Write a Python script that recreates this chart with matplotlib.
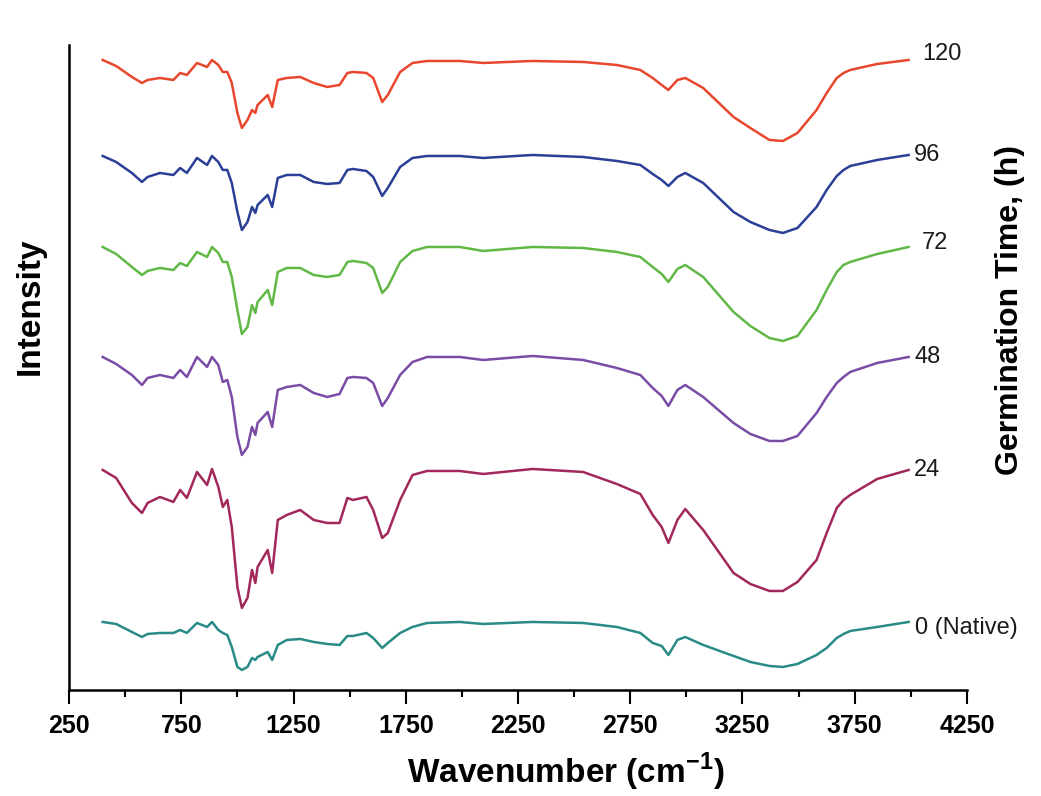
import matplotlib.pyplot as plt

plt.rcParams["mathtext.fontset"] = "custom"
plt.rcParams["mathtext.rm"] = "Liberation Sans"
plt.rcParams["mathtext.bf"] = "Liberation Sans:bold"

# wavenumber grid (cm-1)
wavenumber = [400, 460, 530, 575, 600, 655, 715, 745, 775, 820, 865, 887, 915, 935, 955, 975,
              1000, 1020, 1045, 1065, 1080, 1090, 1135, 1155, 1180, 1220, 1280, 1340, 1400,
              1455, 1490, 1515, 1575, 1605, 1645, 1670, 1725, 1780, 1845,
              1990, 2095, 2315, 2540, 2690, 2795, 2850, 2890, 2920, 2960, 2995, 3075, 3210,
              3285, 3370, 3430, 3495, 3580, 3625, 3670, 3700, 3730, 3850, 3990]

# intensity (a.u., stacked) for each germination time
h120 = [640, 634, 623, 617, 620, 622, 620, 627, 625, 637, 633, 640, 635, 628, 628, 617,
        587, 572, 580, 590, 587, 595, 605, 593, 620, 622, 623, 617, 613,
        615, 627, 628, 627, 622, 598, 605, 628, 637, 639,
        639, 637, 639, 638, 635, 630, 622, 615, 610, 620, 622, 612, 583,
        572, 560, 559, 567, 590, 607, 622, 627, 630, 636, 640]
h96 = [544, 538, 527, 518, 523, 527, 525, 532, 527, 542, 535, 544, 538, 530, 530, 517,
       488, 470, 478, 493, 487, 495, 505, 493, 522, 525, 525, 518, 516,
       517, 530, 531, 529, 523, 504, 512, 533, 542, 544,
       544, 542, 545, 543, 539, 535, 526, 520, 514, 523, 527, 517, 488,
       478, 470, 467, 472, 493, 510, 524, 530, 534, 540, 545]
h72 = [453, 446, 433, 425, 429, 432, 430, 437, 434, 448, 443, 453, 447, 438, 438, 423,
       390, 366, 373, 395, 387, 398, 410, 395, 428, 432, 432, 425, 423,
       425, 438, 439, 437, 432, 407, 413, 438, 449, 453,
       453, 449, 453, 452, 448, 443, 433, 426, 418, 431, 435, 423, 388,
       374, 362, 359, 364, 390, 410, 428, 435, 438, 446, 453]
h48 = [343, 336, 325, 315, 322, 325, 322, 330, 323, 343, 333, 343, 335, 318, 320, 303,
       263, 245, 253, 273, 265, 277, 288, 273, 310, 313, 315, 307, 303,
       306, 322, 323, 322, 317, 294, 302, 325, 338, 343,
       343, 340, 344, 340, 332, 325, 312, 304, 294, 310, 315, 303, 277,
       266, 259, 259, 264, 287, 303, 317, 323, 328, 337, 343]
h24 = [230, 222, 197, 187, 197, 203, 198, 210, 202, 228, 215, 231, 213, 193, 200, 173,
       113, 92, 102, 130, 117, 133, 150, 127, 180, 185, 190, 180, 177,
       177, 202, 200, 203, 190, 162, 167, 200, 225, 229,
       229, 226, 231, 228, 216, 206, 185, 173, 157, 180, 191, 170, 127,
       116, 109, 109, 118, 140, 167, 192, 200, 205, 221, 230]
h0 = [78, 76, 68, 63, 66, 67, 67, 70, 67, 77, 73, 78, 70, 67, 65, 53,
      33, 30, 33, 42, 40, 43, 48, 40, 55, 60, 61, 58, 56,
      55, 64, 64, 67, 62, 52, 57, 67, 73, 77,
      78, 76, 78, 77, 73, 67, 57, 54, 45, 60, 63, 55, 44,
      38, 34, 33, 36, 45, 52, 62, 66, 69, 73, 78]

series = [h120, h96, h72, h48, h24, h0]
labels = ["120", "96", "72", "48", "24", "0 (Native)"]
colors = ["#E8472E", "#2B3F96", "#62B847", "#7A4CA6", "#A2285C", "#2A8B86"]
label_pos = [(4050, 646), (4015, 545), (4050, 457), (4015, 343), (4015, 230), (4020, 72)]

xticks = [250, 750, 1250, 1750, 2250, 2750, 3250, 3750, 4250]
xminor = [500, 1000, 1500, 2000, 2500, 3000, 3500, 4000]

fig = plt.figure(figsize=(10.41, 7.96), dpi=100)
ax = fig.add_axes([0.0663, 0.1332, 0.8626, 0.8103])

for y, lab, c, (lx, ly) in zip(series, labels, colors, label_pos):
    ax.plot(wavenumber, y, color=c, lw=1.8)
    ax.text(lx, ly, lab, color="#1a1a1a", fontsize=17, family="Liberation Sans",
            ha="left", va="center", clip_on=False)

ax.set_xlim(250, 4250)
ax.set_ylim(10, 655)
ax.set_xticks(xticks)
ax.set_xticks(xminor, minor=True)
ax.set_xticklabels([str(v) for v in xticks], fontsize=18, fontweight="bold",
                   family="Liberation Sans")
ax.set_yticks([])
for s in ["top", "right"]:
    ax.spines[s].set_visible(False)
ax.spines["left"].set_linewidth(1.8)
ax.spines["bottom"].set_linewidth(1.8)
ax.tick_params(axis="x", which="major", length=10, width=1.5, pad=7)
ax.tick_params(axis="x", which="minor", length=5, width=1.5)

fig.text(0.543, 0.030, r"Wavenumber (cm$^{\mathbf{-1}}$)", fontsize=24, fontweight="bold",
         family="Liberation Sans", ha="center", va="center")
fig.text(0.029, 0.615, "Intensity", rotation=90, fontsize=24, fontweight="bold",
         family="Liberation Sans", ha="center", va="center")
fig.text(0.970, 0.61, "Germination Time, (h)", rotation=90, fontsize=23, fontweight="bold",
         family="Liberation Sans", ha="center", va="center")

fig.savefig("out.png", dpi=100)
